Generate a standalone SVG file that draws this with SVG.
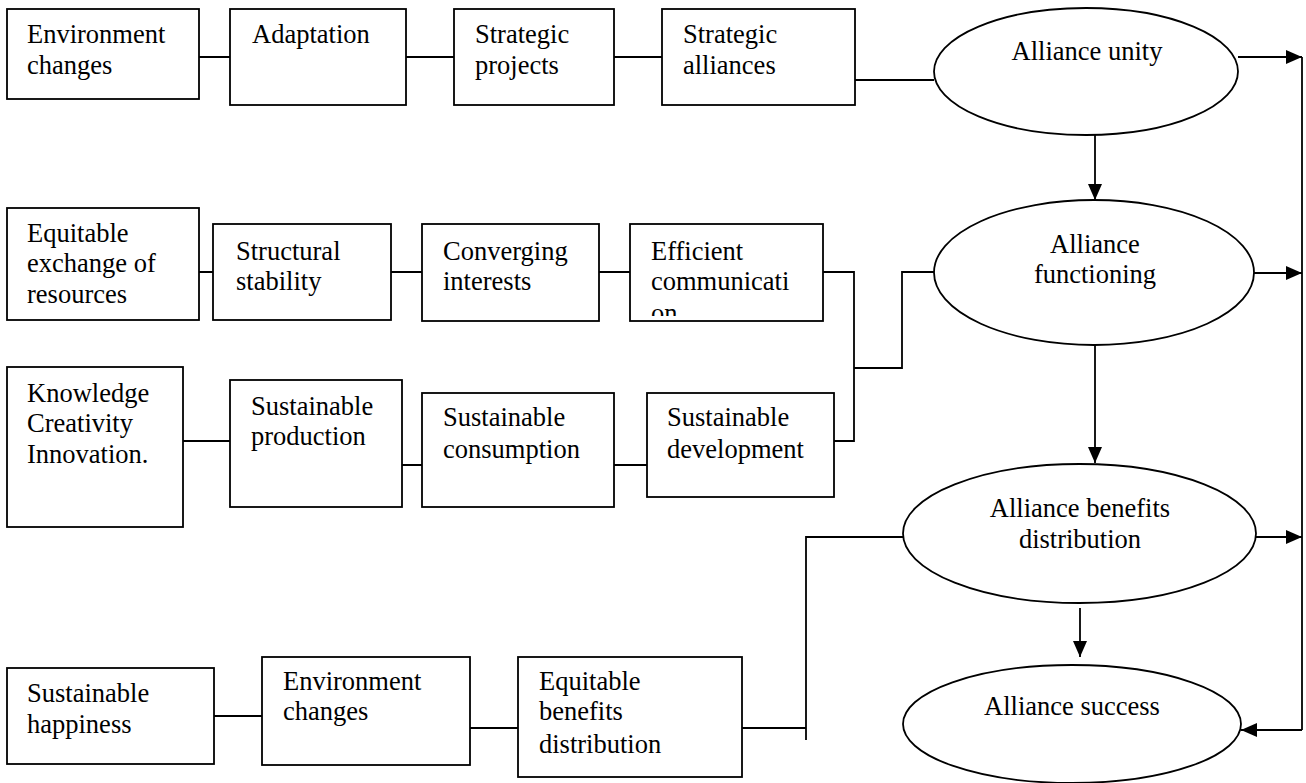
<svg xmlns="http://www.w3.org/2000/svg" width="1306" height="783" viewBox="0 0 1306 783">
  <style>
    .box { fill: #fff; stroke: #000; stroke-width: 1.8; }
    .oval { fill: #fff; stroke: #000; stroke-width: 1.8; }
    .lbl { font-family: "Liberation Serif", "Times New Roman", serif; font-size: 26.5px; fill: #000; }
    .mid { text-anchor: middle; }
    .wire { fill: none; stroke: #000; stroke-width: 1.8; }
    .arrow { fill: none; stroke: #000; stroke-width: 1.8; marker-end: url(#head); }
  </style>
  <defs>
    <marker id="head" markerUnits="userSpaceOnUse" markerWidth="17" markerHeight="15" refX="16" refY="7" orient="auto">
      <path d="M0,0 L16,7 L0,14 z" fill="#000"/>
    </marker>
    <!-- the third line of this label runs past the box and is cut off -->
    <clipPath id="clipComm">
      <rect x="631" y="225" width="191" height="91"/>
    </clipPath>
  </defs>
  <rect width="1306" height="783" fill="#fff"/>

  <!-- connectors -->
  <g id="connectors">
    <!-- row 1 -->
    <path class="wire" d="M199,57 H230 M406,57 H454 M614,57 H662 M855,80 H934"/>
    <!-- row 2 -->
    <path class="wire" d="M199,272 H213 M391,272 H422 M599,272 H630 M823,272 H854 V441 H834"/>
    <path class="wire" d="M854,368 H902 V272 H934"/>
    <!-- row 3 -->
    <path class="wire" d="M183,441 H230 M402,465 H422 M614,465 H647"/>
    <!-- row 4 -->
    <path class="wire" d="M214,716 H262 M470,728 H518 M742,728 H806"/>
    <path class="wire" d="M806,740 V537 H903"/>
    <!-- outcome chain -->
    <path class="arrow" d="M1095,128 V200"/>
    <path class="arrow" d="M1095,345 V463"/>
    <path class="arrow" d="M1080,608 V657"/>
    <path class="arrow" d="M1238,57 H1302"/>
    <path class="arrow" d="M1254,273 H1302"/>
    <path class="arrow" d="M1256,537 H1302"/>
    <path class="wire" d="M1302,57 V730"/>
    <path class="arrow" d="M1302,730 H1241"/>
  </g>

  <!-- row 1 -->
  <g id="env-changes-1">
    <rect class="box" x="7" y="9" width="192" height="90"/>
    <text class="lbl" x="27" y="43">Environment</text>
    <text class="lbl" x="27" y="74">changes</text>
  </g>
  <g id="adaptation">
    <rect class="box" x="230" y="9" width="176" height="96"/>
    <text class="lbl" x="252" y="43">Adaptation</text>
  </g>
  <g id="strategic-projects">
    <rect class="box" x="454" y="9" width="160" height="96"/>
    <text class="lbl" x="475" y="43">Strategic</text>
    <text class="lbl" x="475" y="74">projects</text>
  </g>
  <g id="strategic-alliances">
    <rect class="box" x="662" y="9" width="193" height="96"/>
    <text class="lbl" x="683" y="43">Strategic</text>
    <text class="lbl" x="683" y="74">alliances</text>
  </g>

  <!-- row 2 -->
  <g id="equitable-exchange">
    <rect class="box" x="7" y="208" width="192" height="112"/>
    <text class="lbl" x="27" y="242">Equitable</text>
    <text class="lbl" x="27" y="272">exchange of</text>
    <text class="lbl" x="27" y="303">resources</text>
  </g>
  <g id="structural-stability">
    <rect class="box" x="213" y="224" width="178" height="96"/>
    <text class="lbl" x="236" y="260">Structural</text>
    <text class="lbl" x="236" y="290">stability</text>
  </g>
  <g id="converging-interests">
    <rect class="box" x="422" y="224" width="177" height="97"/>
    <text class="lbl" x="443" y="260">Converging</text>
    <text class="lbl" x="443" y="290">interests</text>
  </g>
  <g id="efficient-communication">
    <rect class="box" x="630" y="224" width="193" height="97"/>
    <g clip-path="url(#clipComm)">
      <text class="lbl" x="651" y="260">Efficient</text>
      <text class="lbl" x="651" y="290">communicati</text>
      <text class="lbl" x="651" y="322">on</text>
    </g>
  </g>

  <!-- row 3 -->
  <g id="knowledge">
    <rect class="box" x="7" y="367" width="176" height="160"/>
    <text class="lbl" x="27" y="402">Knowledge</text>
    <text class="lbl" x="27" y="432">Creativity</text>
    <text class="lbl" x="27" y="463">Innovation.</text>
  </g>
  <g id="sustainable-production">
    <rect class="box" x="230" y="380" width="172" height="127"/>
    <text class="lbl" x="251" y="415">Sustainable</text>
    <text class="lbl" x="251" y="445">production</text>
  </g>
  <g id="sustainable-consumption">
    <rect class="box" x="422" y="393" width="192" height="114"/>
    <text class="lbl" x="443" y="426">Sustainable</text>
    <text class="lbl" x="443" y="458">consumption</text>
  </g>
  <g id="sustainable-development">
    <rect class="box" x="647" y="393" width="187" height="104"/>
    <text class="lbl" x="667" y="426">Sustainable</text>
    <text class="lbl" x="667" y="458">development</text>
  </g>

  <!-- row 4 -->
  <g id="sustainable-happiness">
    <rect class="box" x="7" y="668" width="207" height="96"/>
    <text class="lbl" x="27" y="702">Sustainable</text>
    <text class="lbl" x="27" y="733">happiness</text>
  </g>
  <g id="env-changes-2">
    <rect class="box" x="262" y="657" width="208" height="108"/>
    <text class="lbl" x="283" y="690">Environment</text>
    <text class="lbl" x="283" y="720">changes</text>
  </g>
  <g id="equitable-benefits">
    <rect class="box" x="518" y="657" width="224" height="120"/>
    <text class="lbl" x="539" y="690">Equitable</text>
    <text class="lbl" x="539" y="720">benefits</text>
    <text class="lbl" x="539" y="753">distribution</text>
  </g>

  <!-- outcomes -->
  <g id="alliance-unity">
    <ellipse class="oval" cx="1086" cy="71.5" rx="152" ry="63.5"/>
    <text class="lbl mid" x="1087" y="60">Alliance unity</text>
  </g>
  <g id="alliance-functioning">
    <ellipse class="oval" cx="1094" cy="272.5" rx="160" ry="72.5"/>
    <text class="lbl mid" x="1095" y="253">Alliance</text>
    <text class="lbl mid" x="1095" y="283">functioning</text>
  </g>
  <g id="alliance-benefits">
    <ellipse class="oval" cx="1079.5" cy="533.5" rx="176.5" ry="69.5"/>
    <text class="lbl mid" x="1080" y="517">Alliance benefits</text>
    <text class="lbl mid" x="1080" y="548">distribution</text>
  </g>
  <g id="alliance-success">
    <ellipse class="oval" cx="1072" cy="724" rx="169" ry="59"/>
    <text class="lbl mid" x="1072" y="715">Alliance success</text>
  </g>
</svg>
